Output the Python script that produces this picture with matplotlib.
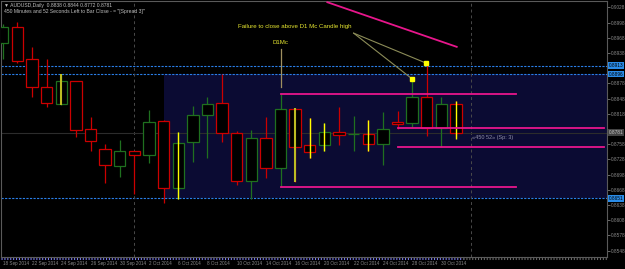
import numpy as np
import matplotlib
matplotlib.use('Agg')
import matplotlib.pyplot as plt
import matplotlib.transforms as mtransforms
from matplotlib.patches import Rectangle

# ─── DATA (AUDUSD daily) ────────────────────────────────────────────────
opens = [0.8958, 0.8989, 0.8926, 0.8871, 0.8837, 0.8883, 0.8788, 0.8749, 0.8715, 0.8745,
         0.8737, 0.8804, 0.8672, 0.8762, 0.8816, 0.8839, 0.8780, 0.8685, 0.8770, 0.8711,
         0.8827, 0.8756, 0.8756, 0.8782, 0.8778, 0.8778, 0.8758, 0.8801, 0.8800, 0.8851,
         0.8790, 0.8838]
highs = [0.8995, 0.8999, 0.8950, 0.8926, 0.8896, 0.8883, 0.8812, 0.8758, 0.8766, 0.8745,
         0.8825, 0.8806, 0.8782, 0.8833, 0.8851, 0.8896, 0.8784, 0.8786, 0.8812, 0.8859,
         0.8829, 0.8810, 0.8800, 0.8831, 0.8814, 0.8806, 0.8822, 0.8824, 0.8887, 0.8918,
         0.8851, 0.8844]
lows = [0.8926, 0.8918, 0.8851, 0.8831, 0.8835, 0.8772, 0.8745, 0.8681, 0.8693, 0.8660,
        0.8721, 0.8642, 0.8650, 0.8723, 0.8731, 0.8762, 0.8678, 0.8650, 0.8691, 0.8674,
        0.8683, 0.8731, 0.8745, 0.8756, 0.8745, 0.8745, 0.8717, 0.8788, 0.8792, 0.8774,
        0.8753, 0.8772]
closes = [0.8989, 0.8922, 0.8871, 0.8839, 0.8883, 0.8786, 0.8764, 0.8717, 0.8745, 0.8737,
          0.8802, 0.8672, 0.8760, 0.8816, 0.8837, 0.8780, 0.8685, 0.8770, 0.8711, 0.8827,
          0.8753, 0.8743, 0.8782, 0.8776, 0.8779, 0.8758, 0.8788, 0.8798, 0.8851, 0.8790,
          0.8837, 0.8781]

date_labels = ["18 Sep 2014", "22 Sep 2014", "24 Sep 2014", "26 Sep 2014", "30 Sep 2014",
               "2 Oct 2014", "6 Oct 2014", "8 Oct 2014", "10 Oct 2014", "14 Oct 2014",
               "16 Oct 2014", "20 Oct 2014", "22 Oct 2014", "24 Oct 2014", "28 Oct 2014",
               "30 Oct 2014"]
# scale labels (the ones hidden behind the price boxes are left out)
price_ticks = [0.8548, 0.8578, 0.8608, 0.8638, 0.8668, 0.8698, 0.8728, 0.8758,
               0.8818, 0.8848, 0.8878, 0.8938, 0.8968, 0.8998, 0.9028]

# yellow marker bars drawn over some candles
mark_idx = [4, 12, 20, 21, 22, 25, 31]
mark_top = [0.8896, 0.8782, 0.8829, 0.8810, 0.8800, 0.8806, 0.8843]
mark_bot = [0.8835, 0.8650, 0.8683, 0.8731, 0.8745, 0.8745, 0.8768]
mark_dim = [True, False, True, False, False, False, False]

# horizontal levels (blue dotted)
blue_levels = [0.8913, 0.8896, 0.8651]
# range box
box_start, box_top, box_bot = 11.0, 0.8896, 0.8651
# magenta segments: (x0, x1, y0, y1)
pink_segs = [(19.0, 35.1, 0.8857, 0.8857), (19.0, 35.1, 0.8674, 0.8674),
             (27.0, 41.1, 0.8790, 0.8790), (27.0, 41.1, 0.8752, 0.8752),
             (22.2, 31.05, 0.9038, 0.8950)]
d1mc_x, d1mc_top, d1mc_bot = 19.0, 0.8946, 0.8871
note_from = (24.0, 0.8977)
note_to_x = [28.95, 27.99]
note_to_y = [0.8918, 0.8887]
separators = [9.0, 32.0]

BG = '#000000'
NAVY = '#0b0b33'
UP = '#1f701f'
DN = '#cc0000'
PINK = '#e8168c'
BLUE = '#2a7fe8'
GRAY = '#8a8a8a'

fig = plt.figure(figsize=(6.25, 2.69), dpi=100)
fig.patch.set_facecolor(BG)
ax = fig.add_axes([1 / 625, 12 / 269, 606 / 625, 256 / 269])
ax.set_facecolor(BG)
ax.set_xlim(-0.123, 41.33)
ax.set_ylim(0.85356, 0.90404)

# range rectangle
ax.add_patch(Rectangle((box_start, box_bot), 60, box_top - box_bot,
                       facecolor=NAVY, edgecolor='none', zorder=0))

for lv in blue_levels:
    ax.axhline(lv, color=BLUE, lw=0.8, ls=(0, (2, 1.2)), zorder=1)
for sx in separators:
    ax.axvline(sx, color='#4a4a4a', lw=0.7, ls=(0, (3, 3)), zorder=1)
ax.axhline(closes[-1], color='#2c2c2c', lw=0.8, zorder=1)

# candles
w = 0.78
for i in range(len(opens)):
    o, h, l, c = opens[i], highs[i], lows[i], closes[i]
    col = UP if c >= o else DN
    ax.plot([i, i], [l, h], color=col, lw=0.9, zorder=2, solid_capstyle='butt')
    lo, hi = min(o, c), max(o, c)
    ax.add_patch(Rectangle((i - w / 2, lo), w, max(hi - lo, 0.00008),
                           facecolor='black', edgecolor=col, lw=0.9, zorder=3))

for i, t, b, dim in zip(mark_idx, mark_top, mark_bot, mark_dim):
    ax.plot([i, i], [b, t], color='#bcbc22' if dim else '#ffff00',
            lw=1.5 if dim else 1.0, zorder=4, solid_capstyle='butt')

for x0, x1, y0, y1 in pink_segs:
    ax.plot([x0, x1], [y0, y1], color=PINK, lw=1.3, zorder=4)

# annotations
ax.plot([d1mc_x, d1mc_x], [d1mc_bot, d1mc_top], color='#a09060', lw=0.9, zorder=4)
ax.text(d1mc_x, 0.8958, "D1Mc", color='#e8e830', fontsize=4.4,
        family='Liberation Sans', ha='center', va='center')
ax.text(20.0, 0.8991, "Failure to close above D1 Mc Candle high", color='#e8e830',
        fontsize=4.4, family='Liberation Sans', ha='center', va='center')
for tx, ty in zip(note_to_x, note_to_y):
    ax.plot([note_from[0], tx], [note_from[1], ty], color='#8c8c58', lw=0.8, zorder=4)
    ax.plot(tx, ty, marker='s', ms=2.2, color='#ffff00', zorder=5)
ax.text(32.1, 0.8772, "«450 52» (Sp: 3)", color='#9090a8', fontsize=4.0,
        family='Liberation Sans', ha='left', va='center')

# axes styling
for s in ax.spines.values():
    s.set_color('#5a5a5a')
    s.set_linewidth(0.8)
ax.yaxis.tick_right()
ax.set_yticks(price_ticks)
ax.set_yticklabels([f"{p:.4f}" for p in price_ticks])
ax.tick_params(axis='y', colors='#7a7a7a', labelcolor=GRAY, labelsize=3.4,
               length=2, width=0.6, pad=1)
for lbl in ax.get_yticklabels():
    lbl.set_family('Liberation Sans')
ax.set_xticks([])

# right-side price boxes
ytr = mtransforms.blended_transform_factory(ax.transAxes, ax.transData)
for lv in blue_levels:
    ax.text(1.003, lv, f"{lv:.4f}", transform=ytr, fontsize=3.4, color='black',
            family='Liberation Sans', ha='left', va='center',
            bbox=dict(boxstyle='square,pad=0.15', fc='#2a8ce8', ec='none'))
ax.text(1.003, closes[-1], f"{closes[-1]:.4f}", transform=ytr, fontsize=3.4,
        color='#c8c8c8', family='Liberation Sans', ha='left', va='center',
        bbox=dict(boxstyle='square,pad=0.15', fc='#444444', ec='none'))

# date labels + tick row
xtr = mtransforms.blended_transform_factory(ax.transData, ax.transAxes)
for k, lab in enumerate(date_labels):
    ax.text(2 * k, -0.027, lab, transform=xtr, fontsize=3.3, color=GRAY,
            family='Liberation Sans', ha='left', va='center')
ax.plot([-0.1, len(opens) - 0.5], [-0.002, -0.002], transform=xtr, clip_on=False,
        color='#7c7cf0', lw=2.2, ls=(0, (0.35, 0.6)))
ax.plot([len(opens) - 0.5, 41.3], [-0.002, -0.002], transform=xtr, clip_on=False,
        color='#6a6a6a', lw=2.2, ls=(0, (0.35, 0.6)))

# header
fig.text(4 / 625, 1 - 5 / 269, "▼ AUDUSD,Daily  0.8838 0.8844 0.8772 0.8781",
         fontsize=3.6, color='#c0c0c0', family='Liberation Sans', va='center')
fig.text(4 / 625, 1 - 11 / 269,
         '450 Minutes and 52 Seconds Left to Bar Close - = "[Spread 3]"',
         fontsize=3.6, color='#c0c0c0', family='Liberation Sans', va='center')

fig.savefig('out.png', dpi=100, facecolor=fig.get_facecolor())
plt.close()
